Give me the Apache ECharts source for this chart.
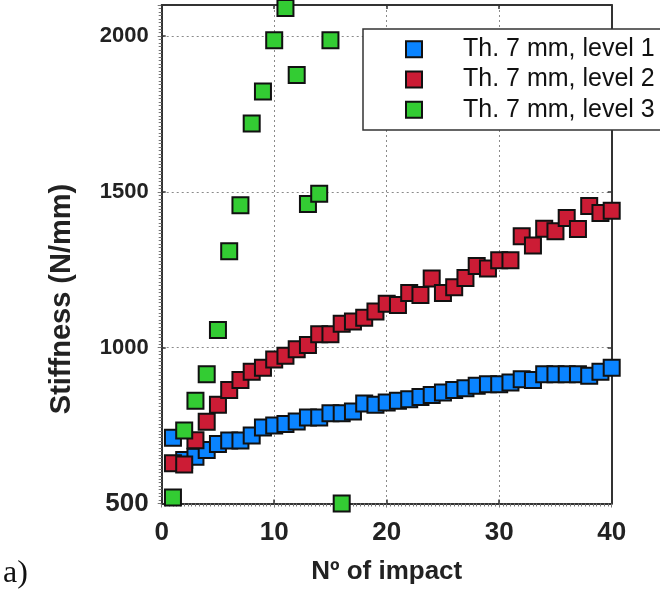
<!DOCTYPE html>
<html>
<head>
<meta charset="utf-8">
<script src="https://cdn.jsdelivr.net/npm/echarts@6/dist/echarts.min.js"></script>
<style>
html,body{margin:0;padding:0;background:#fff;}
#chart{width:660px;height:592px;}
</style>
</head>
<body>
<div id="chart"></div>
<script>
// ---- data ----
const impacts = [1,2,3,4,5,6,7,8,9,10,11,12,13,14,15,16,17,18,19,20,21,22,23,24,25,26,27,28,29,30,31,32,33,34,35,36,37,38,39,40];
const level1 = [711,640,650,672,691,702,702,718,744,750,755,763,776,776,790,790,795,821,817,824,830,835,842,848,856,864,870,878,883,883,888,899,896,915,915,915,915,910,923,936];
const level2 = [629,625,703,762,817,864,896,923,936,962,974,995,1009,1043,1043,1077,1084,1096,1116,1141,1137,1176,1169,1222,1176,1194,1224,1262,1254,1281,1281,1358,1328,1382,1374,1416,1381,1455,1432,1440];
const impacts3 = [1,2,3,4,5,6,7,8,9,10,11,12,13,14,15,16];
const level3 = [519,734,830,915,1057,1310,1457,1720,1822,1987,2090,1875,1461,1494,1987,500];
const seriesNames = ['Th. 7 mm, level 1','Th. 7 mm, level 2','Th. 7 mm, level 3'];
const xTicks = [0,10,20,30,40];
const yTicks = [500,1000,1500,2000];

const chart = echarts.init(document.getElementById('chart'));
const pairs = (xs, ys) => ys.map((v,i)=>[xs[i], v]);
const colors = ['#0a84ff','#cc1c35','#33cc33'];
const sans = "'Liberation Sans', Arial, sans-serif";

function mkSeries(name, data, color){
  return {
    name, type:'scatter', data, symbol:'rect', symbolSize:16,
    itemStyle:{color, borderColor:'#111', borderWidth:2, opacity:1},
    emphasis:{disabled:true}, clip:false, xAxisIndex:0, yAxisIndex:0
  };
}

const gridLine = {show:true, lineStyle:{color:'#8a8a8a', width:1, type:[2,3]}};

chart.setOption({
  animation:false,
  backgroundColor:'#fff',
  grid:{left:161.7, right:48.3, top:5, bottom:88.5, containLabel:false},
  legend:{
    orient:'vertical', left:363, top:29,
    padding:[5,10,5,42], itemWidth:16, itemHeight:16, itemGap:0,
    backgroundColor:'#fff', borderColor:'#333', borderWidth:1.5,
    icon:'rect', selectedMode:false,
    data:seriesNames,
    textStyle:{fontFamily:sans, fontSize:25, color:'#111', lineHeight:30.3, padding:[0,0,0,36]}
  },
  xAxis:[
    {type:'value', position:'bottom', min:xTicks[0], max:xTicks[xTicks.length-1], interval:10,
     name:'Nº of impact', nameLocation:'middle', nameGap:55,
     nameTextStyle:{fontFamily:sans, fontWeight:'bold', fontSize:26, color:'#222'},
     axisLine:{show:true, onZero:false, lineStyle:{color:'#333', width:2}},
     axisTick:{show:true, inside:false, length:4, lineStyle:{color:'#777', width:1}},
     minorTick:{show:true, splitNumber:30, length:3, lineStyle:{color:'#777', width:1}},
     axisLabel:{show:true, margin:16, fontFamily:sans, fontWeight:'bold', fontSize:26, color:'#222'},
     splitLine:gridLine},
    {type:'value', position:'bottom', min:0, max:40, interval:10,
     axisLine:{show:false}, axisTick:{show:true, inside:true, length:4, lineStyle:{color:'#333', width:1.5}},
     axisLabel:{show:false}, splitLine:{show:false}},
    {type:'value', position:'top', min:0, max:40, interval:10,
     axisLine:{show:true, onZero:false, lineStyle:{color:'#333', width:2}},
     axisTick:{show:true, inside:true, length:4, lineStyle:{color:'#333', width:1.5}},
     axisLabel:{show:false}, splitLine:{show:false}}
  ],
  yAxis:[
    {type:'value', position:'left', min:yTicks[0], max:2100, interval:500,
     axisLine:{show:true, onZero:false, lineStyle:{color:'#333', width:2}},
     axisTick:{show:true, inside:false, length:4, lineStyle:{color:'#777', width:1}},
     minorTick:{show:true, splitNumber:45, length:3, lineStyle:{color:'#777', width:1}},
     axisLabel:{show:true, margin:13, color:'#222',
       formatter:v => yTicks.indexOf(v) < 0 ? '' : (v >= 1000 ? '{n|'+v+'}' : '{w|'+v+'}'),
       rich:{
         n:{fontFamily:sans, fontWeight:'bold', fontSize:22, color:'#222'},
         w:{fontFamily:sans, fontWeight:'bold', fontSize:26, color:'#222'}
       }},
     splitLine:gridLine},
    {type:'value', position:'left', min:500, max:2100, interval:500,
     axisLine:{show:false}, axisTick:{show:true, inside:true, length:4, lineStyle:{color:'#333', width:1.5}},
     axisLabel:{show:false}, splitLine:{show:false}},
    {type:'value', position:'right', min:500, max:2100, interval:500,
     axisLine:{show:true, onZero:false, lineStyle:{color:'#333', width:2}},
     axisTick:{show:true, inside:true, length:4, lineStyle:{color:'#333', width:1.5}},
     axisLabel:{show:false}, splitLine:{show:false}}
  ],
  graphic:[
    {type:'text', x:62, y:299, rotation:Math.PI/2,
     style:{text:'Stiffness (N/mm)', font:"bold 29px 'Liberation Sans', Arial, sans-serif",
            fill:'#222', textAlign:'center', textVerticalAlign:'middle'}},
    {type:'text', left:3, top:558,
     style:{text:'a)', font:"32px 'Liberation Serif', 'Times New Roman', serif", fill:'#111'}}
  ],
  series:[
    mkSeries(seriesNames[0], pairs(impacts, level1), colors[0]),
    mkSeries(seriesNames[1], pairs(impacts, level2), colors[1]),
    mkSeries(seriesNames[2], pairs(impacts3, level3), colors[2])
  ]
});
</script>
</body>
</html>
